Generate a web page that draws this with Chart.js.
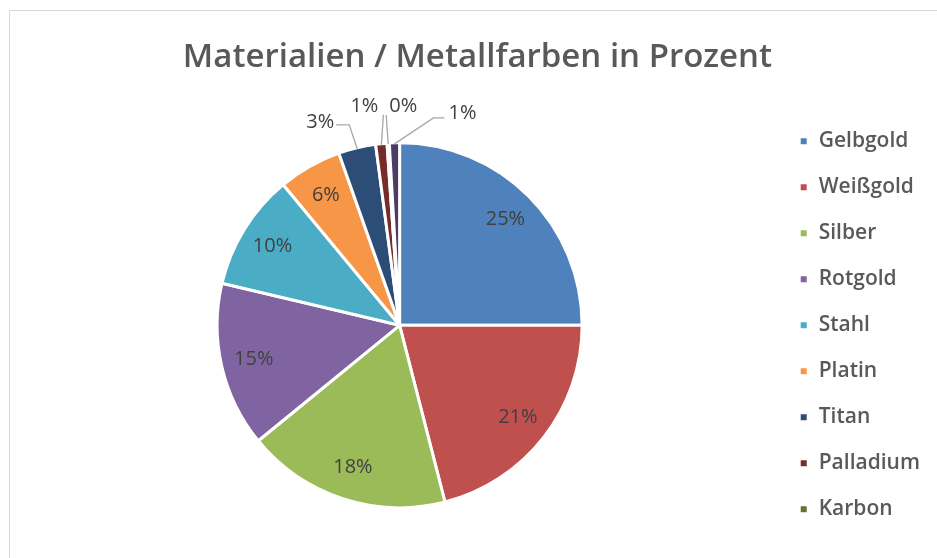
<!DOCTYPE html>
<html lang="de">
<head>
  <meta charset="UTF-8" />
  <title>Materialien / Metallfarben in Prozent</title>
  <style>
  html, body {
    margin: 0;
    padding: 0;
    background: #ffffff;
    overflow: hidden;
  }
  .frame {
    position: absolute;
    left: 9px;
    top: 10px;
    width: 939px;
    height: 600px;
    border: 1px solid #d9d9d9;
    background: #ffffff;
  }
  canvas {
    display: block;
  }
  </style>
  <script src="https://cdn.jsdelivr.net/npm/chart.js"></script>
</head>
<body>
  <div class="frame">
    <canvas id="pieChart" width="939" height="600"></canvas>
  </div>

  <script>
  // categories and shares (percent)
  const materials = ['Gelbgold', 'Weißgold', 'Silber', 'Rotgold', 'Stahl', 'Platin', 'Titan', 'Palladium', 'Karbon', 'Sonstige'];
  const shares = [25, 21, 18.1, 14.6, 10.3, 5.6, 3.3, 1.0, 0.2, 0.9];
  const sliceColors = ['#4f81bd', '#c0504d', '#9bbb59', '#8064a2', '#4bacc6', '#f79646', '#2c4d75', '#772c2a', '#5f7530', '#4d3b62'];
  const legendCount = 9; // the legend is cut off after Karbon

  // label placement for the small slices: offsets from the slice's outer edge
  const callouts = {
    6: { line: [[-8, -24], [-21, -24]], label: [-23, -27], align: 'right' },
    7: { line: [[2, -30]], label: [-17, -38], align: 'center' },
    8: { line: [[-2, -29]], label: [15, -38], align: 'center' },
    9: { line: [[39, -26], [50, -26]], label: [54, -31], align: 'left' }
  };

  const total = shares.reduce((a, b) => a + b, 0);

  const percentLabels = {
    id: 'percentLabels',
    afterDatasetsDraw(chart) {
      const ctx = chart.ctx;
      const meta = chart.getDatasetMeta(0);
      ctx.save();
      ctx.font = '20px "Open Sans", sans-serif';
      ctx.fillStyle = '#404040';
      ctx.textBaseline = 'middle';
      meta.data.forEach((arc, i) => {
        const p = arc.getProps(['x', 'y', 'startAngle', 'endAngle', 'outerRadius'], true);
        const mid = (p.startAngle + p.endAngle) / 2;
        const text = Math.round(shares[i] / total * 100) + '%';
        const c = callouts[i];
        if (!c) {
          const r = p.outerRadius * 0.82;
          ctx.textAlign = 'center';
          ctx.fillText(text, p.x + Math.cos(mid) * r, p.y + Math.sin(mid) * r);
          return;
        }
        const ax = p.x + Math.cos(mid) * (p.outerRadius - 1);
        const ay = p.y + Math.sin(mid) * (p.outerRadius - 1);
        ctx.strokeStyle = '#a6a6a6';
        ctx.lineWidth = 1.3;
        ctx.beginPath();
        ctx.moveTo(ax, ay);
        c.line.forEach(pt => ctx.lineTo(ax + pt[0], ay + pt[1]));
        ctx.stroke();
        ctx.textAlign = c.align;
        ctx.fillText(text, ax + c.label[0], ay + c.label[1]);
      });
      ctx.restore();
    }
  };

  new Chart(document.getElementById('pieChart'), {
    type: 'pie',
    data: {
      labels: materials,
      datasets: [{
        data: shares,
        backgroundColor: sliceColors,
        borderColor: '#ffffff',
        borderWidth: 3,
        radius: 182.5
      }]
    },
    options: {
      responsive: false,
      animation: false,
      layout: {
        padding: { left: 15, right: 19, top: 0, bottom: 47 }
      },
      plugins: {
        title: {
          display: true,
          text: 'Materialien / Metallfarben in Prozent',
          color: '#595959',
          font: { family: '"Open Sans", sans-serif', size: 33, weight: '600' },
          padding: { top: 27, bottom: 9 }
        },
        legend: {
          position: 'right',
          fullSize: false,
          labels: {
            color: '#595959',
            font: { family: '"Open Sans", sans-serif', size: 21, weight: '600' },
            boxWidth: 9,
            boxHeight: 9,
            padding: 25,
            filter: item => item.index < legendCount
          }
        },
        tooltip: { enabled: false }
      }
    },
    plugins: [percentLabels]
  });
  </script>
</body>
</html>
